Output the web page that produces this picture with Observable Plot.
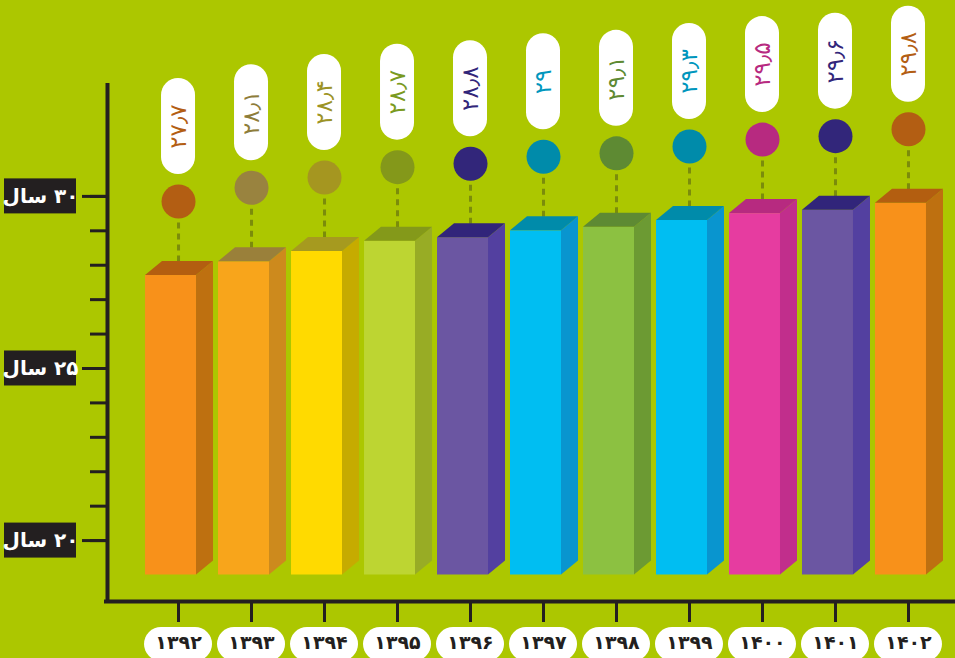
<!DOCTYPE html>
<html>
<head>
<meta charset="utf-8">
<script src="https://cdn.jsdelivr.net/npm/d3@7"></script>
<script src="https://cdn.jsdelivr.net/npm/@observablehq/plot@0.6"></script>
<style>
html,body{margin:0;padding:0;background:#acc700;overflow:hidden}
#chart svg{display:block}
</style>
</head>
<body>
<div id="chart"></div>
<script>
// ---- data ----
const years = ["۱۳۹۲","۱۳۹۳","۱۳۹۴","۱۳۹۵","۱۳۹۶","۱۳۹۷","۱۳۹۸","۱۳۹۹","۱۴۰۰","۱۴۰۱","۱۴۰۲"];
const values = [27.7, 28.1, 28.4, 28.7, 28.8, 29, 29.1, 29.3, 29.5, 29.6, 29.8];
const yTicks = [20, 25, 30];
const yTickLabels = ["۲۰ سال", "۲۵ سال", "۳۰ سال"];
const yMinorTicks = [20, 21, 22, 23, 24, 25, 26, 27, 28, 29, 30];

// ---- palette ----
const frontColors  = ["#f8911a","#f8a51b","#ffda00","#bdd532","#6b56a2","#00bef2","#8cc141","#00bef2","#e63ca0","#6b56a2","#f8911a"];
const sideColors   = ["#be7010","#cd8a1d","#c6ab00","#98ac25","#5340a0","#0995cf","#6c9a33","#0995cf","#c12e8c","#5340a0","#be7010"];
const topColors    = ["#b35e10","#9a803a","#a69a1f","#84991a","#31257a","#008baa","#5e8a33","#008baa","#b72a80","#31257a","#b35e10"];
const markerColors = ["#b35e13","#99833f","#a59620","#84981a","#32267a","#008baa","#5e8a33","#008baa","#b72a80","#32267a","#b35e13"];
const labelColors  = ["#b35e13","#8e7d3a","#9c9326","#7a9a20","#32267a","#0096bd","#5e8a33","#0096bd","#b72a80","#32267a","#b35e13"];

const faDigits = "۰۱۲۳۴۵۶۷۸۹";
const fa = v => String(v).replace(/\d/g, d => faDigits[d]).replace(".", "٫");

// ---- layout ----
const W = 955, H = 658, mL = 107, mR = 0, mT = 83, mB = 57;
const xDom = [-0.973, 10.644];
const yDom = [18.23, 33.28];
const kx = (W - mL - mR) / (xDom[1] - xDom[0]);
const ky = (H - mT - mB) / (yDom[1] - yDom[0]);
const fx = p => p / kx;   // pixels -> x units
const fy = p => p / ky;   // pixels -> y units
const base = 19;
const markerOff = 74;

const bars = years.map((yr, i) => ({
  i, year: yr, v: values[i], label: fa(values[i]),
  front: frontColors[i], side: sideColors[i], top: topColors[i],
  marker: markerColors[i], lab: labelColors[i]
}));

const sidePts = bars.flatMap(d => [
  {i: d.i, x: d.i + fx(18), y1: base, y2: d.v, c: d.side},
  {i: d.i, x: d.i + fx(35), y1: base + fy(14), y2: d.v + fy(14), c: d.side}
]);
const topPts = bars.flatMap(d => [
  {i: d.i, y: d.v, x1: d.i + fx(-33), x2: d.i + fx(18), c: d.top},
  {i: d.i, y: d.v + fy(14), x1: d.i + fx(-16), x2: d.i + fx(35), c: d.top}
]);

const ink = "#231f20";
const font = "DejaVu Sans";

const chart = Plot.plot({
  width: W, height: H,
  marginLeft: mL, marginRight: mR, marginTop: mT, marginBottom: mB,
  style: {background: "#acc700", overflow: "visible"},
  x: {type: "linear", domain: xDom},
  y: {type: "linear", domain: yDom, nice: false},
  color: {type: "identity"},
  marks: [
    // axes ticks
    Plot.axisY(yMinorTicks, {anchor: "left", tickSize: 17, stroke: ink, strokeWidth: 3, fill: "none", tickFormat: () => "", label: null}),
    Plot.axisY(yTicks, {anchor: "left", tickSize: 25, stroke: ink, strokeWidth: 3, fill: "none", tickFormat: () => "", label: null}),
    Plot.axisX(bars.map(d => d.i), {anchor: "bottom", tickSize: 21, stroke: ink, strokeWidth: 3, fill: "none", tickFormat: () => "", label: null}),
    // axis lines
    Plot.ruleX([xDom[0]], {stroke: ink, strokeWidth: 4}),
    Plot.ruleY([yDom[0]], {stroke: ink, strokeWidth: 4, insetLeft: -3}),
    // y labels in black boxes
    Plot.rect(yTicks, {x1: xDom[0], x2: xDom[0], y1: d => d, y2: d => d,
      insetLeft: -36, insetRight: -36, insetTop: -17.5, insetBottom: -17.5, dx: -67, fill: ink}),
    Plot.text(yTicks, {x: xDom[0], y: d => d, dx: -67, text: (d, i) => "\u200F" + yTickLabels[i],
      fill: "white", fontSize: 20, fontWeight: "bold", fontFamily: font}),
    // year labels in white pills
    Plot.rect(bars, {x1: "i", x2: "i", y1: yDom[0], y2: yDom[0],
      insetLeft: -34, insetRight: -34, insetTop: -17, insetBottom: -17, dy: 43, rx: 17, ry: 17, fill: "white"}),
    Plot.text(bars, {x: "i", y: yDom[0], dy: 41, text: "year", fill: ink, fontSize: 19, fontWeight: "bold", fontFamily: font}),
    // dashed leader lines
    Plot.link(bars, {x1: "i", x2: "i", y1: d => d.v + fy(14), y2: d => d.v + fy(markerOff),
      stroke: "#7b8c0b", strokeWidth: 3, strokeDasharray: "6,5"}),
    // markers
    Plot.dot(bars, {x: "i", y: d => d.v + fy(markerOff), r: 17, fill: "marker"}),
    // value pills
    Plot.rect(bars, {x1: "i", x2: "i", y1: d => d.v + fy(markerOff), y2: d => d.v + fy(markerOff),
      insetLeft: -17, insetRight: -17, insetTop: -48, insetBottom: -48, dy: -75, rx: 17, ry: 17, fill: "white"}),
    Plot.text(bars, {x: "i", y: d => d.v + fy(markerOff), dy: -75, rotate: -90, text: "label",
      fill: "lab", fontSize: 23, fontFamily: font}),
    // 3D bars
    Plot.rect(bars, {x1: d => d.i + fx(-33), x2: d => d.i + fx(18), y1: base, y2: "v", fill: "front"}),
    Plot.areaY(sidePts, {x: "x", y1: "y1", y2: "y2", z: "i", fill: "c"}),
    Plot.areaX(topPts, {y: "y", x1: "x1", x2: "x2", z: "i", fill: "c"})
  ]
});
document.getElementById("chart").appendChild(chart);
</script>
</body>
</html>
